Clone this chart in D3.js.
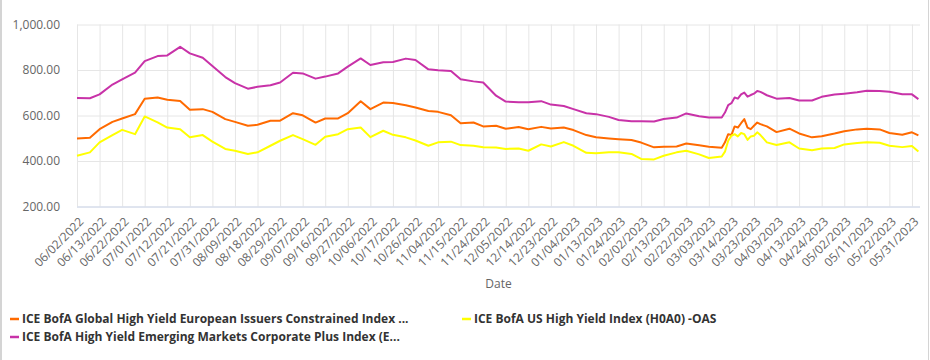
<!DOCTYPE html>
<html>
<head>
<meta charset="utf-8">
<script src="https://cdn.jsdelivr.net/npm/d3@7"></script>
<style>
  body { margin: 0; background: #fff; font-family: "Open Sans", sans-serif; }
</style>
</head>
<body>
<div id="chart"></div>
<script>
// x labels, one every 7 trading days
var tickLabels = ["06/02/2022","06/13/2022","06/22/2022","07/01/2022","07/12/2022","07/21/2022","07/31/2022",
  "08/09/2022","08/18/2022","08/29/2022","09/07/2022","09/16/2022","09/27/2022","10/06/2022","10/17/2022",
  "10/26/2022","11/04/2022","11/15/2022","11/24/2022","12/05/2022","12/14/2022","12/23/2022","01/04/2023",
  "01/13/2023","01/24/2023","02/02/2023","02/13/2023","02/22/2023","03/03/2023","03/14/2023","03/23/2023",
  "04/03/2023","04/13/2023","04/24/2023","05/02/2023","05/11/2023","05/22/2023","05/31/2023"];
var tickStep = 7;

// trading-day position of each read value
var dayIdx = [0,4,7,11,14,18,21,25,28,32,35,39,42,46,49,53,56,60,63,67,70,74,77,81,84,88,91,95,98,102,105,
  109,112,116,119,123,126,130,133,137,140,144,147,151,154,158,161,165,168,172,175,179,182,186,189,193,196,
  200,201,202,203,204,205,206,207,208,209,210,211,212,214,217,221,224,228,231,235,238,242,245,249,252,256,259,261];

var euroHY = [499,502,540,572,587,606,674,679,669,664,625,628,616,584,572,555,559,577,577,610,601,569,587,587,
  610,663,628,657,655,645,635,620,616,601,566,569,552,555,542,549,540,550,543,547,536,514,504,499,496,492,481,
  460,463,464,477,469,463,458,482,518,514,552,547,566,584,547,540,555,569,562,552,527,542,521,504,509,521,531,
  539,542,539,523,515,526,513];

var usHY = [423,438,482,514,537,518,596,570,547,540,504,514,485,453,445,431,438,467,489,514,496,471,507,518,
  540,547,505,533,515,504,490,467,482,485,470,467,460,459,453,455,445,473,464,483,467,436,434,438,438,431,409,
  407,423,438,445,429,413,420,441,489,511,518,508,523,518,493,508,511,526,514,482,470,482,455,447,455,457,473,
  479,482,480,467,461,466,442];

var emCorp = [677,676,693,736,759,788,839,861,864,902,873,854,818,769,742,718,726,733,745,788,785,762,771,785,
  815,851,822,834,835,850,844,803,799,796,759,750,745,687,661,658,658,663,648,642,628,610,606,594,580,575,575,
  574,585,591,609,597,591,591,613,646,654,679,674,693,701,683,690,696,708,704,689,674,677,666,666,682,692,696,
  702,709,708,704,693,693,672];

var seriesNames = ["ICE BofA Global High Yield European Issuers Constrained Index ...",
  "ICE BofA US High Yield Index (H0A0) -OAS",
  "ICE BofA High Yield Emerging Markets Corporate Plus Index (E..."];
var seriesColors = ["#ff6a00", "#ffff00", "#c832a8"];
var yTicks = [200, 400, 600, 800, 1000];

var chartW = 930, chartH = 360;
var plotL = 77, plotR = 920, plotT = 24.5, plotB = 206.5;

var svg = d3.select("#chart").append("svg")
  .attr("width", chartW)
  .attr("height", chartH);

// panel edges
svg.append("line").attr("x1", 1).attr("x2", 1).attr("y1", 0).attr("y2", chartH)
  .style("stroke", "#d4d4d4").style("stroke-width", 2);
svg.append("line").attr("x1", 928.5).attr("x2", 928.5).attr("y1", 0).attr("y2", chartH)
  .style("stroke", "#d4d4d4").style("stroke-width", 1);

var x = d3.scaleLinear().domain([0, 261.5]).range([plotL, plotR]);
var y = d3.scaleLinear().domain([200, 1000]).range([plotB, plotT]);

var tickIdx = tickLabels.map(function(d, i){ return i * tickStep; });

// y grid + labels
var yAxis = svg.append("g")
  .attr("transform", "translate(" + plotL + ",0)")
  .call(d3.axisLeft(y).tickValues(yTicks).tickFormat(d3.format(",.2f")).tickSize(-(plotR - plotL)).tickPadding(17));
yAxis.select(".domain").remove();
yAxis.selectAll("line").style("stroke", "#e6e6e6");
yAxis.selectAll("text").style("fill", "#666").style("font-size", "12px").style("font-family", "Open Sans");

// x grid
var xAxis = svg.append("g")
  .attr("transform", "translate(0," + plotB + ")")
  .call(d3.axisBottom(x).tickValues(tickIdx).tickFormat(function(d, i){ return tickLabels[i]; }).tickSize(-(plotB - plotT)));
xAxis.select(".domain").remove();
xAxis.selectAll("line").style("stroke", "#e6e6e6");
xAxis.selectAll("text")
  .style("fill", "#666").style("font-size", "12px").style("font-family", "Open Sans")
  .attr("text-anchor", "end")
  .attr("y", 0).attr("dy", "0.35em")
  .attr("transform", "translate(4,13) rotate(-45)");

// bottom axis line
svg.append("line")
  .attr("x1", plotL).attr("x2", plotR).attr("y1", plotB + 0.5).attr("y2", plotB + 0.5)
  .style("stroke", "#ccd6eb");

svg.append("text")
  .attr("x", (plotL + plotR) / 2).attr("y", 288)
  .attr("text-anchor", "middle")
  .style("fill", "#666").style("font-size", "12px").style("font-family", "Open Sans")
  .text("Date");

// lines
var allSeries = [euroHY, usHY, emCorp];
var line = d3.line()
  .x(function(d){ return x(d[0]); })
  .y(function(d){ return y(d[1]); });

allSeries.forEach(function(vals, s){
  var pts = dayIdx.map(function(d, i){ return [d, vals[i]]; });
  svg.append("path")
    .datum(pts)
    .attr("d", line)
    .style("fill", "none")
    .style("stroke", seriesColors[s])
    .style("stroke-width", 2)
    .style("stroke-linejoin", "round");
});

// legend
var legendPos = [[10, 319], [462, 319], [10, 337]];
legendPos.forEach(function(p, s){
  var g = svg.append("g").attr("transform", "translate(" + p[0] + "," + p[1] + ")");
  g.append("line").attr("x1", 0).attr("x2", 9).attr("y1", 0).attr("y2", 0)
    .style("stroke", seriesColors[s]).style("stroke-width", 2.5);
  g.append("text").attr("x", 12).attr("y", 4)
    .style("fill", "#333").style("font-size", "12px").style("font-weight", "700")
    .style("font-family", "Open Sans")
    .text(seriesNames[s]);
});
</script>
</body>
</html>
